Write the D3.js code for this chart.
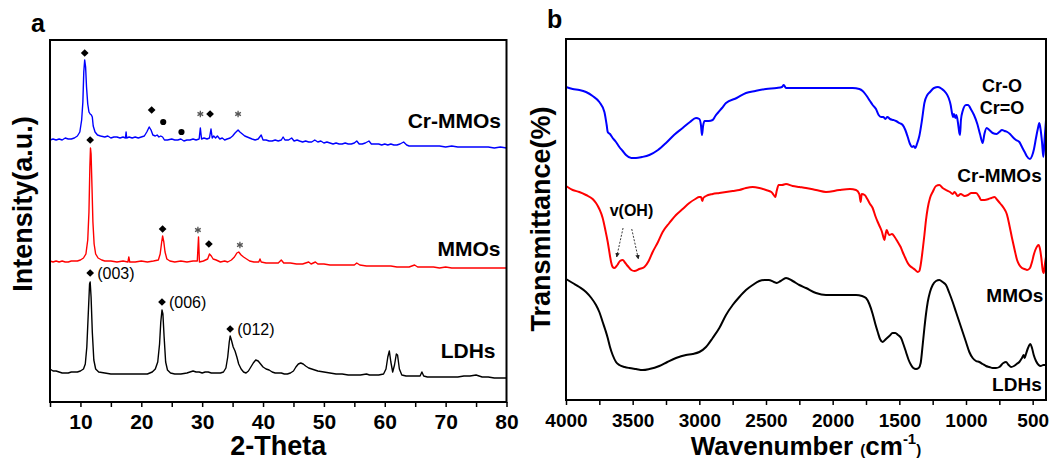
<!DOCTYPE html>
<html>
<head>
<meta charset="utf-8">
<script src="https://cdn.jsdelivr.net/npm/d3@7"></script>
<style>
  html, body { margin: 0; padding: 0; background: #fff; }
  svg { display: block; font-family: Arial, "Liberation Sans", sans-serif; }
</style>
</head>
<body>
<div id="chart"></div>
<script>
const kWidth = 1054;
const kHeight = 461;

// ---- panel a : XRD, [2-theta, intensity (a.u., stacked)] ----
const xrdCrMMOs = [
  [5,262],[5.5,263],[6,262],[6.5,263],[7,262],[7.5,264],[8,263],[8.5,263],[9,264],[9.5,266],[9.9,270],
  [10.2,282],[10.4,300],[10.55,330],[10.7,342],[10.85,335],[11.0,315],[11.2,298],[11.4,290],[11.6,288],
  [11.8,287],[11.95,285],[12.1,276],[12.4,270],[12.8,267],[13.3,266],[14,265],[14.5,266],[15,264],
  [15.5,265],[16,265],[16.5,264],[17,265],[17.4,264],[17.5,270],[17.6,264],[18,265],[18.5,264],[19,265],
  [19.5,264],[20,265],[20.5,266],[20.9,270],[21.3,275],[21.6,272],[21.9,267],[22.3,266],[22.6,267],
  [22.9,265],[23.2,266],[23.5,265],[23.8,262],[24.3,262],[25,263],[25.5,262],[26,262],[26.5,263],
  [27,261],[27.5,262],[28,262],[28.5,263],[29,262],[29.5,263],[29.7,274],[29.9,263],[30.3,264],
  [30.8,263],[31.2,264],[31.45,273],[31.65,264],[31.9,266],[32.2,264],[32.5,266],[32.9,263],[33.3,264],
  [33.7,262],[34.1,263],[34.6,264],[35,266],[35.4,269],[35.9,272],[36.2,270],[36.6,268],[37,266],
  [37.4,265],[37.8,264],[38.2,263],[38.7,262],[39.2,263],[39.7,267],[40,262],[40.5,262],[41,261],
  [41.5,261],[42,262],[42.5,261],[43,262],[43.3,265],[43.6,262],[44.2,262],[44.7,264],[45.1,261],
  [45.6,262],[46,261],[46.5,260],[47,261],[47.5,260],[48,260],[48.5,262],[49,260],[49.5,261],[50,259],
  [50.5,260],[51,259],[51.5,258],[52,259],[52.5,258],[53,258],[53.5,259],[54,258],[54.5,258],[55,259],
  [55.4,261],[55.8,258],[56.3,258],[56.8,259],[57.4,261],[57.8,258],[58.5,258],[59,258],[59.5,257],
  [60,258],[60.5,257],[61,258],[61.5,257],[62,257],[62.5,258],[63.1,260],[63.6,257],[64,256],[65,256],
  [66,256],[67,256],[68,256],[69,256],[70,255],[71,256],[72,255],[73,255],[74,255],[75,255],[76,255],
  [77,255],[78,254],[79,255],[80,254]
];
const xrdMMOs = [
  [5,141],[5.5,140],[6,141],[6.5,140],[7,141],[7.5,140],[8,140],[8.5,141],[9,141],[9.5,141],[10,142],
  [10.5,144],[10.9,148],[11.2,162],[11.4,190],[11.55,235],[11.65,254],[11.75,248],[11.9,215],
  [12.05,180],[12.25,158],[12.5,148],[12.9,144],[13.5,142],[14,141],[15,141],[16,140],[17,141],
  [17.8,140],[17.95,145],[18.1,140],[19,140],[20,141],[21,140],[22,141],[22.8,142],[23.1,148],
  [23.35,160],[23.5,166],[23.7,160],[23.9,150],[24.2,143],[24.7,141],[25.5,140],[26.5,141],[27.5,140],
  [28.5,141],[29.2,141],[29.4,165],[29.55,140],[30.2,141],[30.9,143],[31.2,148],[31.5,146],[31.8,143],
  [32.3,142],[33,140],[33.7,141],[34.2,140],[34.8,142],[35.3,145],[35.7,149],[36,150],[36.4,147],
  [36.8,145],[37.3,143],[37.8,141],[38.5,140],[39.3,140],[39.5,143],[39.7,140],[40.5,139],[41.5,139],
  [42.5,139],[43,142],[43.4,139],[44.5,139],[45.5,138],[46.5,138],[47.5,140],[47.9,138],[48.6,140],
  [49,138],[50,138],[51,137],[52,137],[53,137],[54,137],[55,137],[55.4,139],[55.9,137],[57,136],
  [58,136],[59,136],[60,136],[61,136],[62,135],[63,135],[64,135],[64.9,137],[65.4,135],[66,135],
  [67,135],[68,135],[69,134],[70,135],[71,134],[72,134],[73,134],[74,134],[75,134],[76,134],[77,134],
  [78,134],[79,134],[80,134]
];
const xrdLDHs = [
  [5,33],[5.5,31],[6,31],[6.5,30],[7,29],[7.5,29],[8,29],[8.5,30],[9,30],[9.5,30],[10,31],[10.5,33],
  [10.8,38],[11.05,55],[11.3,90],[11.5,118],[11.6,120],[11.75,105],[11.95,70],[12.2,42],[12.5,33],
  [13,30],[14,29],[15,28],[16,28],[17,28],[18,28],[19,28],[20,28],[21,28],[21.8,30],[22.3,33],[22.7,40],
  [23.0,58],[23.2,80],[23.4,92],[23.55,88],[23.75,65],[24.0,40],[24.3,32],[24.8,29],[25.5,28],[26.5,28],
  [27.5,29],[28,30],[28.5,31],[29,30],[29.5,30],[30,29],[30.5,30],[31,30],[31.5,29],[32,29],[32.5,29],
  [33,29],[33.5,30],[33.9,34],[34.2,45],[34.45,60],[34.6,66],[34.8,62],[35.1,55],[35.4,51],[35.7,45],
  [36.0,38],[36.4,33],[36.8,30],[37.2,29],[37.6,31],[38,35],[38.4,39],[38.8,42],[39.2,41],[39.6,38],
  [40,35],[40.5,33],[41,32],[41.5,30],[42,29],[42.5,29],[43,29],[43.5,28],[44,28],[44.5,29],[45,31],
  [45.4,35],[45.8,38],[46.2,39],[46.6,38],[47,36],[47.5,34],[48,33],[48.5,32],[49,31],[50,30],[51,29],
  [52,28],[53,28],[54,27],[55,27],[56,27],[57,28],[57.5,27],[58,27],[59,27],[59.8,28],[60.2,33],
  [60.5,45],[60.75,51],[61.0,40],[61.3,30],[61.6,37],[61.9,48],[62.1,47],[62.4,33],[62.8,27],[63.5,26],
  [64,26],[65,26],[65.8,26],[66.1,30],[66.4,26],[67,25],[68,25],[69,25],[70,25],[71,25],[72,25],[73,26],
  [74,26],[75,27],[75.5,26],[76,25],[77,25],[78,24],[79,24],[80,24]
];
const xrdTicks = [5, 10, 15, 20, 25, 30, 35, 40, 45, 50, 55, 60, 65, 70, 75, 80];
const xrdTickLabels = [10, 20, 30, 40, 50, 60, 70, 80];

// phase markers on the XRD traces
const xrdDiamonds = [[10.7,349],[21.7,292],[31.3,288],[11.6,262],[23.5,173],[31.1,158],[11.6,129],[23.4,100],[34.6,73]];
const xrdDots = [[23.6,280],[26.6,270]];
const xrdStars = [[29.7,288],[35.9,288],[29.3,172],[36.2,157]];
const xrdHkl = [[11.6,129,"(003)"],[23.4,100,"(006)"],[34.6,73,"(012)"]];
const xrdNames = [["Cr-MMOs",79.1,274],["MMOs",79.0,146],["LDHs",78.2,44]];

// ---- panel b : FTIR, [wavenumber, transmittance (stacked)] ----
const ftirCrMMOs = [
  [4000,313],[3950,311],[3900,310],[3850,308],[3800,304],[3750,298],[3712,288],[3695,275],[3687,268],
  [3670,266],[3650,262],[3625,258],[3600,253],[3575,249],[3550,245],[3510,242],[3475,242],[3430,243],
  [3375,245],[3310,250],[3250,257],[3190,265],[3125,272],[3070,278],[3025,282],[3000,281],[2988,275],
  [2980,265],[2972,274],[2960,279],[2930,279],[2900,280],[2880,284],[2862,287],[2830,292],[2800,297],
  [2720,302],[2650,307],[2580,309],[2500,311],[2420,312],[2380,313],[2367,315],[2350,312],[2300,312],
  [2200,312],[2100,312],[2000,312],[1900,312],[1850,312],[1800,311],[1775,309],[1750,305],[1720,299],
  [1700,295],[1675,291],[1655,285],[1637,283],[1620,283],[1605,281],[1590,283],[1570,281],[1545,280],
  [1525,279],[1500,277],[1475,275],[1455,270],[1437,263],[1420,256],[1405,253],[1392,254],[1380,252],
  [1368,256],[1350,264],[1330,280],[1312,297],[1290,305],[1270,308],[1240,312],[1210,313],[1180,311],
  [1150,307],[1130,302],[1115,295],[1105,287],[1097,283],[1090,286],[1080,282],[1072,285],[1060,277],
  [1050,267],[1045,265],[1038,280],[1025,289],[1000,295],[985,295],[960,290],[940,285],[915,276],
  [895,266],[875,257],[862,266],[845,272],[825,270],[800,267],[770,266],[750,268],[730,270],[710,269],
  [690,268],[670,266],[650,263],[625,260],[600,258],[580,253],[560,248],[545,244],[520,241],[505,244],
  [490,251],[475,262],[460,272],[450,277],[440,270],[430,258],[420,243],[410,262],[400,280]
];
const ftirMMOs = [
  [4000,214],[3950,210],[3900,208],[3850,205],[3800,201],[3775,197],[3750,191],[3725,182],[3705,170],
  [3687,158],[3670,144],[3662,138],[3650,133],[3637,132],[3615,135],[3595,139],[3575,140],[3555,137],
  [3537,134],[3510,130],[3487,129],[3450,131],[3412,133],[3380,139],[3350,148],[3310,158],[3275,168],
  [3225,177],[3175,185],[3125,191],[3075,197],[3030,201],[3000,203],[2987,203],[2978,199],[2970,202],
  [2950,204],[2900,206],[2850,207],[2800,208],[2750,209],[2700,210],[2650,212],[2600,213],[2550,212],
  [2500,210],[2460,208],[2442,205],[2430,203],[2420,209],[2405,215],[2380,215],[2350,216],[2300,214],
  [2250,213],[2200,212],[2125,210],[2050,208],[1950,210],[1870,211],[1825,210],[1800,206],[1790,198],
  [1782,206],[1760,205],[1740,201],[1720,196],[1700,192],[1680,184],[1662,178],[1645,173],[1630,168],
  [1620,163],[1612,160],[1603,166],[1595,170],[1585,167],[1575,165],[1555,166],[1535,163],[1512,158],
  [1490,153],[1475,148],[1455,142],[1437,137],[1420,134],[1400,132],[1380,130],[1362,128],[1350,129],
  [1340,135],[1325,150],[1312,165],[1300,180],[1287,192],[1270,202],[1250,208],[1225,214],[1200,215],
  [1175,212],[1150,210],[1120,208],[1100,206],[1085,208],[1062,204],[1040,206],[1010,204],[985,205],
  [960,207],[925,207],[900,203],[887,200],[860,200],[830,201],[810,202],[787,203],[765,200],[740,196],
  [717,192],[700,188],[692,185],[675,175],[655,162],[635,150],[617,140],[600,135],[580,132],[560,131],
  [542,130],[520,132],[505,138],[490,146],[480,150],[465,154],[455,155],[445,151],[435,142],[425,130],
  [417,127],[408,136],[400,143]
];
const ftirLDHs = [
  [4000,121],[3950,117],[3900,113],[3850,108],[3810,102],[3775,95],[3750,88],[3725,78],[3705,70],
  [3687,62],[3670,53],[3650,45],[3625,38],[3600,35],[3560,33],[3525,32],[3475,31],[3425,30],[3375,31],
  [3300,34],[3240,38],[3175,42],[3100,45],[3050,46],[3000,48],[2950,53],[2900,62],[2850,72],[2800,85],
  [2750,95],[2700,103],[2650,110],[2600,115],[2550,119],[2510,120],[2480,120],[2440,118],[2420,117],
  [2390,119],[2350,122],[2300,119],[2250,115],[2200,112],[2125,107],[2050,105],[1950,105],[1825,105],
  [1780,104],[1750,102],[1725,96],[1700,86],[1680,76],[1662,68],[1645,61],[1625,58],[1600,61],[1575,64],
  [1550,67],[1530,67],[1510,65],[1487,62],[1470,56],[1450,48],[1430,40],[1412,35],[1395,32],[1375,31],
  [1355,32],[1340,37],[1325,55],[1312,72],[1300,86],[1287,98],[1270,108],[1250,115],[1225,119],
  [1200,120],[1175,118],[1150,115],[1125,107],[1100,98],[1075,88],[1050,78],[1025,68],[1000,58],
  [975,48],[950,42],[925,39],[900,38],[875,36],[850,34],[825,33],[800,32],[775,32],[750,33],[720,37],
  [700,38],[680,35],[662,33],[640,34],[620,36],[600,38],[580,42],[567,45],[560,42],[550,46],[535,52],
  [517,56],[505,52],[492,45],[475,39],[455,35],[440,34],[420,35],[400,35]
];
const ftirTicks = [4000, 3750, 3500, 3250, 3000, 2750, 2500, 2250, 2000, 1750, 1500, 1250, 1000, 750, 500];
const ftirTickLabels = [4000, 3500, 3000, 2500, 2000, 1500, 1000, 500];
const ftirNames = [["Cr-MMOs",432,218],["MMOs",420,98],["LDHs",432,9]];
const ftirBondLabels = [["Cr-O",730,308],["Cr=O",730,286]];
const ftirOhLabel = ["v(OH)",3509,184];
const ftirOhArrows = [[[3572,172],[3620,143]],[[3507,171],[3457,141]]];

const kPanelA = { left: 50, right: 506.5, top: 40, bottom: 402 };
const kPanelB = { left: 566, right: 1046, top: 39, bottom: 400 };

function createSvg()
{
  const svg = d3.select("#chart")
    .append("svg")
    .attr("width", kWidth)
    .attr("height", kHeight);

  svg.append("defs").append("marker")
    .attr("id", "arrowHead")
    .attr("viewBox", "0 0 10 10")
    .attr("refX", 9).attr("refY", 5)
    .attr("markerWidth", 5).attr("markerHeight", 5)
    .attr("orient", "auto")
    .append("path")
    .attr("d", "M0,0 L10,5 L0,10 z")
    .attr("fill", "#222");

  return svg;
}

function drawFrame(svg, p)
{
  svg.append("rect")
    .attr("x", p.left).attr("y", p.top)
    .attr("width", p.right - p.left).attr("height", p.bottom - p.top)
    .attr("fill", "none")
    .attr("stroke", "#000")
    .attr("stroke-width", 2);
}

function drawAxis(svg, p, xScale, ticks, labels, fontSize, labelY)
{
  const axis = d3.axisBottom(xScale)
    .tickValues(ticks)
    .tickSize(5)
    .tickSizeOuter(0)
    .tickFormat(d => labels.includes(d) ? d : "");

  const g = svg.append("g")
    .attr("transform", `translate(0, ${p.bottom})`)
    .call(axis);

  g.select(".domain").remove();
  g.selectAll(".tick line").attr("stroke", "#000").attr("stroke-width", 1.5);
  // minor ticks carry no label
  g.selectAll(".tick text").filter(d => !labels.includes(d)).remove();
  g.selectAll(".tick text")
    .attr("y", labelY)
    .attr("dy", 0)
    .attr("fill", "#000")
    .style("font-family", "Arial, 'Liberation Sans', sans-serif")
    .style("font-size", `${fontSize}px`)
    .style("font-weight", "bold");
}

function drawXrd(svg)
{
  const p = kPanelA;
  const xScale = d3.scaleLinear().domain([5, 80]).range([p.left, p.right]);
  const yScale = d3.scaleLinear().domain([0, 362]).range([p.bottom, p.top]);

  const line = d3.line()
    .x(d => xScale(d[0]))
    .y(d => yScale(d[1]));

  const series = [
    { data: xrdLDHs, color: "#000000" },
    { data: xrdMMOs, color: "#ff0000" },
    { data: xrdCrMMOs, color: "#0000ff" }
  ];

  svg.append("g").selectAll("path")
    .data(series)
    .enter()
    .append("path")
    .attr("d", d => line(d.data))
    .attr("fill", "none")
    .attr("stroke", d => d.color)
    .attr("stroke-width", 1.4)
    .attr("stroke-linejoin", "round");

  drawFrame(svg, p);
  drawAxis(svg, p, xScale, xrdTicks, xrdTickLabels, 21, 27);

  // markers
  svg.append("g").selectAll("path")
    .data(xrdDiamonds)
    .enter()
    .append("path")
    .attr("d", d3.symbol(d3.symbolSquare, 30))
    .attr("transform", d => `translate(${xScale(d[0])}, ${yScale(d[1])}) rotate(45)`)
    .attr("fill", "#000");

  svg.append("g").selectAll("path")
    .data(xrdDots)
    .enter()
    .append("path")
    .attr("d", d3.symbol(d3.symbolCircle, 30))
    .attr("transform", d => `translate(${xScale(d[0])}, ${yScale(d[1])})`)
    .attr("fill", "#000");

  svg.append("g").selectAll("path")
    .data(xrdStars)
    .enter()
    .append("path")
    .attr("d", d3.symbol(d3.symbolAsterisk, 30))
    .attr("transform", d => `translate(${xScale(d[0])}, ${yScale(d[1])})`)
    .attr("fill", "none")
    .attr("stroke", "#555")
    .attr("stroke-width", 1.3);

  svg.append("g").selectAll("text")
    .data(xrdHkl)
    .enter()
    .append("text")
    .attr("x", d => xScale(d[0]) + 7)
    .attr("y", d => yScale(d[1]) + 6)
    .style("font-size", "16px")
    .text(d => d[2]);

  svg.append("g").selectAll("text")
    .data(xrdNames)
    .enter()
    .append("text")
    .attr("x", d => xScale(d[1]))
    .attr("y", d => yScale(d[2]))
    .attr("text-anchor", "end")
    .style("font-size", "21px")
    .style("font-weight", "bold")
    .text(d => d[0]);

  svg.append("text")
    .attr("x", (p.left + p.right) / 2)
    .attr("y", 455)
    .attr("text-anchor", "middle")
    .style("font-size", "27px")
    .style("font-weight", "bold")
    .text("2-Theta");

  svg.append("text")
    .attr("transform", "translate(32, 204) rotate(-90)")
    .attr("text-anchor", "middle")
    .style("font-size", "27px")
    .style("font-weight", "bold")
    .text("Intensity(a.u.)");

  svg.append("text")
    .attr("x", 31).attr("y", 32)
    .style("font-size", "25px")
    .style("font-weight", "bold")
    .text("a");
}

function drawFtir(svg)
{
  const p = kPanelB;
  const xScale = d3.scaleLinear().domain([4000, 400]).range([p.left, p.right]);
  const yScale = d3.scaleLinear().domain([0, 361]).range([p.bottom, p.top]);

  const line = d3.line()
    .curve(d3.curveMonotoneX)
    .x(d => xScale(d[0]))
    .y(d => yScale(d[1]));

  const series = [
    { data: ftirLDHs, color: "#000000" },
    { data: ftirMMOs, color: "#ff0000" },
    { data: ftirCrMMOs, color: "#0000ff" }
  ];

  svg.append("g").selectAll("path")
    .data(series)
    .enter()
    .append("path")
    .attr("d", d => line(d.data))
    .attr("fill", "none")
    .attr("stroke", d => d.color)
    .attr("stroke-width", 2)
    .attr("stroke-linejoin", "round");

  drawFrame(svg, p);
  drawAxis(svg, p, xScale, ftirTicks, ftirTickLabels, 19, 27);

  svg.append("g").selectAll("text")
    .data(ftirNames)
    .enter()
    .append("text")
    .attr("x", d => xScale(d[1]))
    .attr("y", d => yScale(d[2]))
    .attr("text-anchor", "end")
    .style("font-size", "19px")
    .style("font-weight", "bold")
    .text(d => d[0]);

  svg.append("g").selectAll("text")
    .data(ftirBondLabels)
    .enter()
    .append("text")
    .attr("x", d => xScale(d[1]))
    .attr("y", d => yScale(d[2]))
    .attr("text-anchor", "middle")
    .style("font-size", "18px")
    .style("font-weight", "bold")
    .text(d => d[0]);

  svg.append("text")
    .attr("x", xScale(ftirOhLabel[1]))
    .attr("y", yScale(ftirOhLabel[2]))
    .attr("text-anchor", "middle")
    .style("font-size", "16px")
    .style("font-weight", "bold")
    .text(ftirOhLabel[0]);

  svg.append("g").selectAll("line")
    .data(ftirOhArrows)
    .enter()
    .append("line")
    .attr("x1", d => xScale(d[0][0])).attr("y1", d => yScale(d[0][1]))
    .attr("x2", d => xScale(d[1][0])).attr("y2", d => yScale(d[1][1]))
    .attr("stroke", "#222")
    .attr("stroke-width", 0.9)
    .attr("stroke-dasharray", "2,1.5")
    .attr("marker-end", "url(#arrowHead)");

  const title = svg.append("text")
    .attr("x", (p.left + p.right) / 2)
    .attr("y", 455)
    .attr("text-anchor", "middle")
    .style("font-weight", "bold");
  title.append("tspan").style("font-size", "26px").text("Wavenumber ");
  title.append("tspan").style("font-size", "15px").text("(");
  title.append("tspan").style("font-size", "26px").text("cm");
  title.append("tspan").style("font-size", "15px").attr("dy", -11).text("-1");
  title.append("tspan").style("font-size", "15px").attr("dy", 11).text(")");

  svg.append("text")
    .attr("transform", "translate(550, 219) rotate(-90)")
    .attr("text-anchor", "middle")
    .style("font-size", "27px")
    .style("font-weight", "bold")
    .text("Transmittance(%)");

  svg.append("text")
    .attr("x", 547).attr("y", 28)
    .style("font-size", "25px")
    .style("font-weight", "bold")
    .text("b");
}

document.addEventListener('DOMContentLoaded', () => {
  const svg = createSvg();
  drawXrd(svg);
  drawFtir(svg);
});
</script>
</body>
</html>
